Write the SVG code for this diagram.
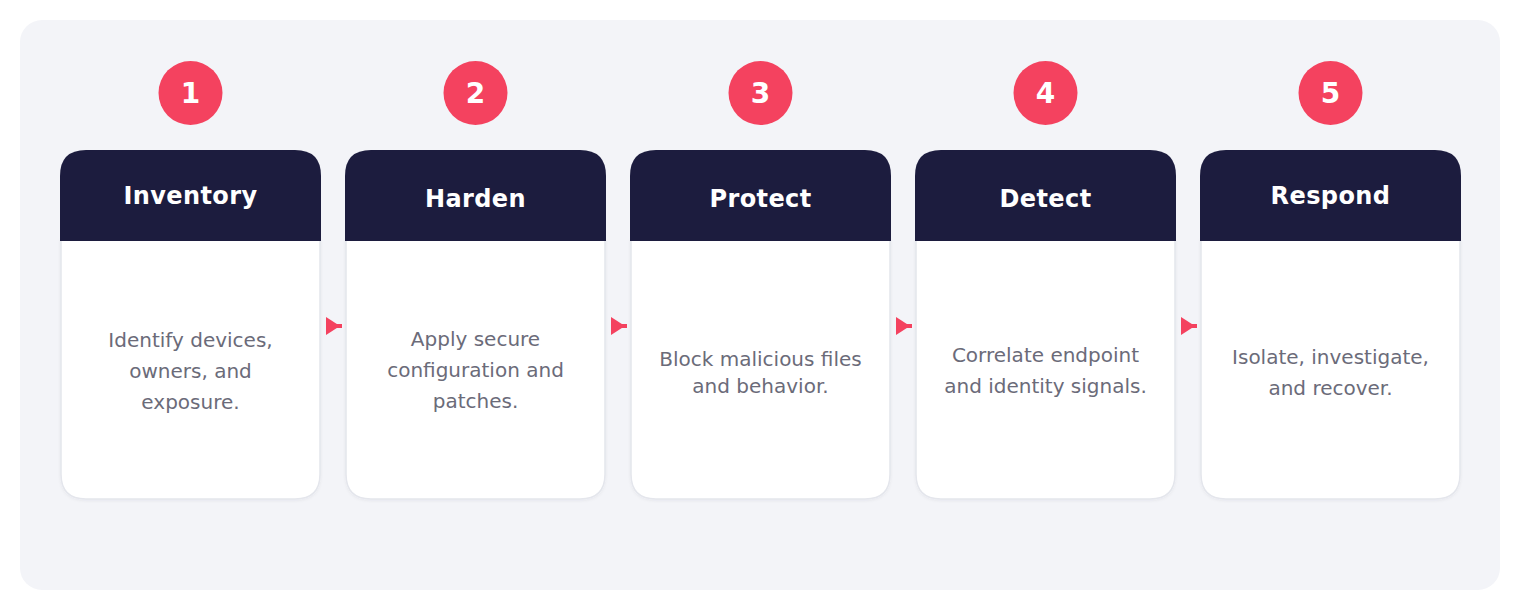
<svg xmlns="http://www.w3.org/2000/svg" width="1520" height="610" viewBox="0 0 1520 610">
<style>
.panel{fill:#f3f4f8}
.body{fill:#ffffff;stroke:#e4e6ec;stroke-width:1.5}
.head{fill:#1c1c3e}
.badge{fill:#f4425f}
.num{font-family:"DejaVu Sans",sans-serif;font-weight:bold;font-size:28px;fill:#ffffff;text-anchor:middle}
.title{font-family:"DejaVu Sans",sans-serif;font-weight:bold;font-size:24px;fill:#ffffff;text-anchor:middle;letter-spacing:0.4px}
.desc{font-family:"DejaVu Sans",sans-serif;font-size:20px;fill:#6b6b79;text-anchor:middle}
.conn{stroke:#f4425f;stroke-width:4;fill:none}
</style>
<defs>
<marker id="arr" markerUnits="userSpaceOnUse" markerWidth="18" markerHeight="20" refX="16" refY="9" orient="auto">
<path d="M0,0 L14,9 L0,18 Z" fill="#f4425f"/>
</marker>
<filter id="sh" x="-10%" y="-10%" width="120%" height="120%">
<feDropShadow dx="0" dy="1" stdDeviation="1.5" flood-color="#1c1c3e" flood-opacity="0.06"/>
</filter>
</defs>
<rect x="0" y="0" width="1520" height="610" fill="#ffffff"/>
<rect class="panel" x="20" y="20" width="1480" height="570" rx="22"/>

<g id="connectors">
<line class="conn" x1="327" y1="326" x2="342" y2="326" marker-end="url(#arr)"/>
<line class="conn" x1="612" y1="326" x2="627" y2="326" marker-end="url(#arr)"/>
<line class="conn" x1="897" y1="326" x2="912" y2="326" marker-end="url(#arr)"/>
<line class="conn" x1="1182" y1="326" x2="1197" y2="326" marker-end="url(#arr)"/>
</g>

<g id="step1">
<circle class="badge" cx="190.5" cy="93" r="32"/>
<text class="num" x="190.5" y="103">1</text>
<path class="body" filter="url(#sh)" d="M61,240 H320 V474 Q320,499 295,499 H86 Q61,499 61,474 Z"/>
<path class="head" d="M60,241 V176 Q60,150 86,150 H295 Q321,150 321,176 V241 Z"/>
<text class="title" x="190.5" y="204">Inventory</text>
<text class="desc" x="190.5" y="347">Identify devices,</text>
<text class="desc" x="190.5" y="378">owners, and</text>
<text class="desc" x="190.5" y="409">exposure.</text>
</g>

<g id="step2">
<circle class="badge" cx="475.5" cy="93" r="32"/>
<text class="num" x="475.5" y="103">2</text>
<path class="body" filter="url(#sh)" d="M346,240 H605 V474 Q605,499 580,499 H371 Q346,499 346,474 Z"/>
<path class="head" d="M345,241 V176 Q345,150 371,150 H580 Q606,150 606,176 V241 Z"/>
<text class="title" x="475.5" y="207">Harden</text>
<text class="desc" x="475.5" y="346">Apply secure</text>
<text class="desc" x="475.5" y="377">configuration and</text>
<text class="desc" x="475.5" y="408">patches.</text>
</g>

<g id="step3">
<circle class="badge" cx="760.5" cy="93" r="32"/>
<text class="num" x="760.5" y="103">3</text>
<path class="body" filter="url(#sh)" d="M631,240 H890 V474 Q890,499 865,499 H656 Q631,499 631,474 Z"/>
<path class="head" d="M630,241 V176 Q630,150 656,150 H865 Q891,150 891,176 V241 Z"/>
<text class="title" x="760.5" y="207">Protect</text>
<text class="desc" x="760.5" y="366">Block malicious files</text>
<text class="desc" x="760.5" y="393">and behavior.</text>
</g>

<g id="step4">
<circle class="badge" cx="1045.5" cy="93" r="32"/>
<text class="num" x="1045.5" y="103">4</text>
<path class="body" filter="url(#sh)" d="M916,240 H1175 V474 Q1175,499 1150,499 H941 Q916,499 916,474 Z"/>
<path class="head" d="M915,241 V176 Q915,150 941,150 H1150 Q1176,150 1176,176 V241 Z"/>
<text class="title" x="1045.5" y="207">Detect</text>
<text class="desc" x="1045.5" y="362">Correlate endpoint</text>
<text class="desc" x="1045.5" y="393">and identity signals.</text>
</g>

<g id="step5">
<circle class="badge" cx="1330.5" cy="93" r="32"/>
<text class="num" x="1330.5" y="103">5</text>
<path class="body" filter="url(#sh)" d="M1201,240 H1460 V474 Q1460,499 1435,499 H1226 Q1201,499 1201,474 Z"/>
<path class="head" d="M1200,241 V176 Q1200,150 1226,150 H1435 Q1461,150 1461,176 V241 Z"/>
<text class="title" x="1330.5" y="204">Respond</text>
<text class="desc" x="1330.5" y="364">Isolate, investigate,</text>
<text class="desc" x="1330.5" y="395">and recover.</text>
</g>
</svg>
